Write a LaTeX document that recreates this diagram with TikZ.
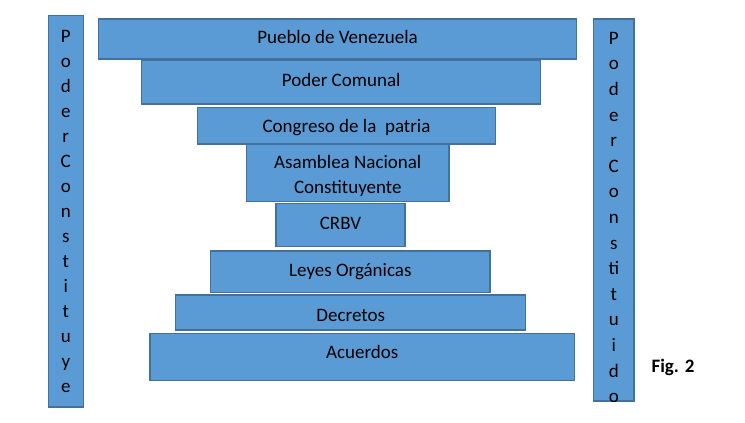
\documentclass[tikz,border=0pt]{standalone}
\usepackage{fontspec}
\setmainfont{Carlito}
\definecolor{boxblue}{HTML}{5B9BD5}
\definecolor{edgeblue}{HTML}{41719C}

\begin{document}
\begin{tikzpicture}[x=0.75pt,y=-0.75pt,
        level/.style={shape=rectangle,draw=edgeblue,fill=boxblue,line width=1.1pt,inner sep=0pt,
            font=\fontsize{14.25}{18.75}\selectfont,text height=10pt,text depth=3pt},
        pillar/.style={shape=rectangle,draw=edgeblue,fill=boxblue,line width=1.1pt,inner sep=0pt,
            minimum width=#1},
        letters/.style={align=center,inner sep=0pt,font=\fontsize{14.25}{#1}\selectfont}]
        \useasboundingbox (0,0) rectangle (745,422);
        % \draw (0,0) node {};
        \node[level,minimum width=358.8pt,minimum height=30pt](pueblo) at (337.5,39)  {Pueblo de Venezuela};
        \node[level,minimum width=299.3pt,minimum height=32.5pt](comunal) at (341.2,82.3)  {Poder Comunal};
        \node[level,minimum width=223.8pt,minimum height=27.2pt,text height=13pt](congreso) at (346.5,125.8)  {Congreso de la \ patria};
        \node[level,minimum width=151.7pt,minimum height=43.3pt,align=center,text height={},text depth={}](asamblea) at (347.8,172.8)  {\rule{0pt}{14.5pt}Asamblea Nacional\\Constituyente};
        \node[level,minimum width=96.8pt,minimum height=32.6pt](crbv) at (340.5,225)  {CRBV};
        \node[level,minimum width=209.5pt,minimum height=31.3pt](leyes) at (350.3,271.8)  {Leyes Orgánicas};
        \node[level,minimum width=262.5pt,minimum height=26.3pt,text height=15.8pt](decretos) at (350.7,312.5)  {Decretos};
        \node[level,minimum width=318.2pt,minimum height=35.6pt,text depth=8.1pt](acuerdos) at (362.2,357)  {Acuerdos};
        \node[pillar=26.3pt,minimum height=293.5pt,letters=18.75pt](constituye) at (65.8,211.3)
            {P\\o\\d\\e\\r\\C\\o\\n\\s\\t\\i\\t\\u\\y\\e};
        \node[pillar=30.2pt,minimum height=286.5pt](constituido) at (613.8,210)  {};
        \begin{scope}
            \clip (constituido.south west) rectangle (constituido.north east);
            \node[letters=19.2pt](constituidotxt) at (613.8,217.5)
                {P\\o\\d\\e\\r\\C\\o\\n\\s\\ti\\t\\u\\i\\d\\o};
        \end{scope}
        \node[font=\fontsize{14.25}{18}\selectfont\bfseries](fig) at (673,367)  {Fig. 2};
    \end{tikzpicture}
\end{document}
